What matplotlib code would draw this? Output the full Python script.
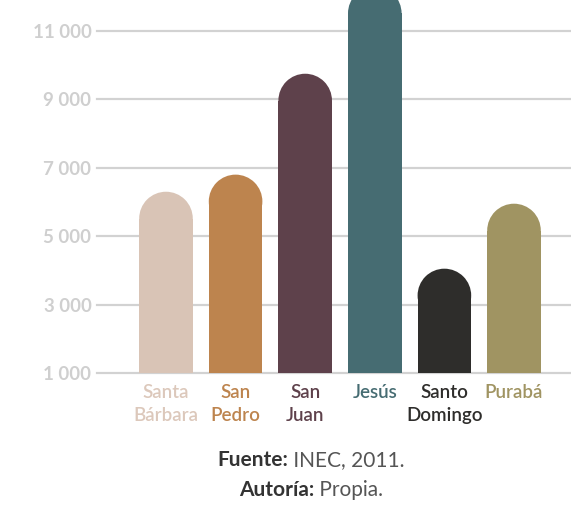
import matplotlib.pyplot as plt
from matplotlib.patches import Ellipse

# Population by parish
categories = ["Santa\nBárbara", "San\nPedro", "San\nJuan", "Jesús", "Santo\nDomingo", "Purabá"]
values = [6300, 6800, 9750, 12300, 4050, 5950]
colors = ["#d9c4b6", "#bd844e", "#5e414b", "#466c72", "#2e2d2b", "#a09462"]
label_colors = ["#dcc8bb", "#bd844e", "#5e414b", "#466c72", "#2e2d2b", "#a09462"]
yticks = [1000, 3000, 5000, 7000, 9000, 11000]

plt.rcParams['font.family'] = ['Lato', 'DejaVu Sans']

fig = plt.figure(figsize=(5.71, 5.05), dpi=100)
ax = fig.add_axes([97 / 571, 132 / 505, 474 / 571, 373 / 505])

x = list(range(len(categories)))
width = 0.77
ymin, ymax = 1000, 11906
ax.set_xlim(-0.991, 5.819)
ax.set_ylim(ymin, ymax)

# size of the round cap in data units
fig.canvas.draw()
p0 = ax.transData.transform((0, 0))
p1 = ax.transData.transform((1, 1000))
px_x = p1[0] - p0[0]
px_y = (p1[1] - p0[1]) / 1000
r_y = (width * px_x / 2) / px_y

for xi, v, c in zip(x, values, colors):
    ax.bar(xi, v - r_y - ymin, width=width, bottom=ymin, color=c, zorder=2, linewidth=0)
    ax.add_patch(Ellipse((xi, v - r_y), width, 2 * r_y, color=c, zorder=2, linewidth=0))

# grid lines
for t in yticks:
    ax.axhline(t, color="#d2d2d2", linewidth=1.6, zorder=1, clip_on=False)

for s in ax.spines.values():
    s.set_visible(False)

ax.set_yticks(yticks)
ax.set_yticklabels([f"{t:,}".replace(",", " ") for t in yticks],
                   fontsize=13.5, fontweight="bold", color="#cfcfcf")
ax.tick_params(axis="y", length=0, pad=4)

ax.set_xticks(x)
ax.set_xticklabels(categories, fontsize=13.5, fontweight="semibold", linespacing=1.45)
for lbl, c in zip(ax.get_xticklabels(), label_colors):
    lbl.set_color(c)
ax.tick_params(axis="x", length=0, pad=8)

# source lines, bold key + regular value, centered together
renderer = fig.canvas.get_renderer()
for y, key, val in [(0.089, "Fuente:", " INEC, 2011."), (0.030, "Autoría:", " Propia.")]:
    t1 = fig.text(0, y, key, fontsize=15, fontweight="bold", color="#333333", va="center")
    t2 = fig.text(0, y, val, fontsize=15, fontweight="normal", color="#555555", va="center")
    w1 = t1.get_window_extent(renderer).width
    w2 = t2.get_window_extent(renderer).width
    left = 311 - (w1 + w2) / 2
    t1.set_x(left / 571)
    t2.set_x((left + w1) / 571)

fig.savefig("out.png", dpi=100)
